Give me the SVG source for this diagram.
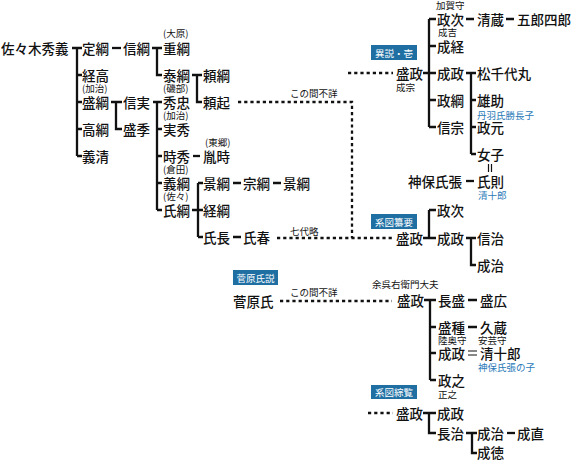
<svg xmlns="http://www.w3.org/2000/svg" width="573" height="460" viewBox="0 0 573 460">
<style>
text{font-family:"Noto Sans CJK JP","Noto Sans CJK SC",sans-serif;dominant-baseline:central;fill:#111}
.t{font-size:13.5px;font-weight:500}
.s{font-size:9.5px}
.b{font-size:9.5px;fill:#2a7ab8}
.w{font-size:9.5px;fill:#fff;text-anchor:middle}
.box{fill:#1f6fa3}
.ln{stroke:#111;stroke-width:2.3;fill:none}
.th{stroke:#111;stroke-width:1.2;fill:none}
.dt{stroke:#111;stroke-width:2.3;fill:none;stroke-dasharray:3.2 3}
</style>
<rect width="573" height="460" fill="#fff"/>
<g id="connectors">
<path class="ln" d="M72 48H82M77 48V156M77 75H82M77 102H82M77 129H82M77 156H82"/>
<path class="ln" d="M112 48H121"/>
<path class="ln" d="M152 48H162M157 48V75H162"/>
<path class="ln" d="M192 75H202M197 75V102H202"/>
<path class="ln" d="M111 102H122M116 102V129H122"/>
<path class="ln" d="M153 102H162M157 102V210M157 129H162M157 156H162M157 183H162M157 210H162"/>
<path class="ln" d="M193 156H200"/>
<path class="ln" d="M192 210H203M198 183V237M198 183H203M198 237H203"/>
<path class="ln" d="M233 183H241M273 183H281M233 237H241"/>
<path class="dt" d="M238 102H352V238M277 238H393"/>
<path class="dt" d="M348 73H393"/>
<path class="ln" d="M423 73H436M429 19V127M429 19H436M429 46H436M429 100H436M429 127H436"/>
<path class="ln" d="M466 19H474M506 19H514"/>
<path class="ln" d="M466 73H476M471 73V154M471 100H476M471 127H476M471 154H476"/>
<path class="th" d="M488.5 164V172M491.5 164V172"/>
<path class="ln" d="M466 181H474"/>
<path class="ln" d="M423 238H436M429 210V238M429 210H436"/>
<path class="ln" d="M466 238H476M471 238V265H476"/>
<path class="dt" d="M280 301H392"/>
<path class="ln" d="M424 300H436M430 300V380M430 327H436M430 353H436M430 380H436"/>
<path class="ln" d="M468 300H477M468 327H477"/>
<path class="th" d="M468 351H477M468 355H477"/>
<path class="dt" d="M368 413H393"/>
<path class="ln" d="M423 413H436M429 413V433H436"/>
<path class="ln" d="M466 433H477M472 433V453H477"/>
<path class="ln" d="M507 433H515"/>
</g>
<g id="n-hideyoshi"><text class="t" x="1" y="48">佐々木秀義</text></g>
<g id="n-sadatsuna"><text class="t" x="82" y="48">定綱</text></g>
<g id="n-tsunetaka"><text class="t" x="82" y="75">経高</text></g>
<g id="n-moritsuna"><text class="s" x="82" y="88">(加治)</text><text class="t" x="82" y="102">盛綱</text></g>
<g id="n-takatsuna"><text class="t" x="82" y="129">高綱</text></g>
<g id="n-yoshikiyo"><text class="t" x="82" y="156">義清</text></g>
<g id="n-nobutsuna"><text class="t" x="123" y="48">信綱</text></g>
<g id="n-nobuzane"><text class="t" x="123" y="102">信実</text></g>
<g id="n-morisue"><text class="t" x="123" y="129">盛季</text></g>
<g id="n-shigetsuna"><text class="s" x="163" y="33">(大原)</text><text class="t" x="163" y="48">重綱</text></g>
<g id="n-yasutsuna"><text class="t" x="163" y="75">泰綱</text></g>
<g id="n-hidetada"><text class="s" x="163" y="88">(磯部)</text><text class="t" x="163" y="102">秀忠</text></g>
<g id="n-sanehide"><text class="s" x="163" y="115">(加治)</text><text class="t" x="163" y="129">実秀</text></g>
<g id="n-tokihide"><text class="t" x="163" y="156">時秀</text></g>
<g id="n-yoshitsuna"><text class="s" x="163" y="169">(倉田)</text><text class="t" x="163" y="183">義綱</text></g>
<g id="n-ujitsuna"><text class="s" x="163" y="196">(佐々)</text><text class="t" x="163" y="210">氏綱</text></g>
<g id="n-yoritsuna"><text class="t" x="203" y="75">頼綱</text></g>
<g id="n-yorioki"><text class="t" x="203" y="102">頼起</text></g>
<g id="n-tanetoki"><text class="s" x="205" y="142">(東郷)</text><text class="t" x="203" y="156">胤時</text></g>
<g id="n-kagetsuna1"><text class="t" x="203" y="183">景綱</text></g>
<g id="n-tsunetsuna"><text class="t" x="203" y="210">経綱</text></g>
<g id="n-ujinaga"><text class="t" x="203" y="237">氏長</text></g>
<g id="n-munetsuna"><text class="t" x="243" y="183">宗綱</text></g>
<g id="n-kagetsuna2"><text class="t" x="283" y="183">景綱</text></g>
<g id="n-ujiharu"><text class="t" x="243" y="237">氏春</text></g>
<g id="lbl-fusho1"><text class="s" x="290" y="93">この間不詳</text></g>
<g id="lbl-nanadai"><text class="s" x="290" y="231">七代略</text></g>
<g id="box-isetsu"><rect class="box" x="371" y="45" width="46" height="15"/><text class="w" x="394" y="52.5">異説・壱</text></g>
<g id="n-morimasa1"><text class="t" x="396" y="73">盛政</text><text class="s" x="396" y="87">成宗</text></g>
<g id="n-masatsugu1"><text class="s" x="436" y="5">加賀守</text><text class="t" x="437" y="19">政次</text></g>
<g id="n-seizo"><text class="t" x="477" y="19">清蔵</text></g>
<g id="n-goroshiro"><text class="t" x="517" y="19">五郎四郎</text></g>
<g id="n-naritsune"><text class="s" x="438" y="32">成吉</text><text class="t" x="437" y="46">成経</text></g>
<g id="n-narimasa1"><text class="t" x="437" y="73">成政</text></g>
<g id="n-masatsuna"><text class="t" x="437" y="100">政綱</text></g>
<g id="n-nobumune"><text class="t" x="437" y="127">信宗</text></g>
<g id="n-matsuchiyo"><text class="t" x="477" y="73">松千代丸</text></g>
<g id="n-yusuke"><text class="t" x="477" y="100">雄助</text><text class="b" x="477" y="115">丹羽氏勝長子</text></g>
<g id="n-masamoto"><text class="t" x="477" y="127">政元</text></g>
<g id="n-joshi"><text class="t" x="477" y="154">女子</text></g>
<g id="n-jinbo"><text class="t" x="408" y="181">神保氏張</text></g>
<g id="n-ujinori"><text class="t" x="477" y="181">氏則</text><text class="b" x="478" y="195">清十郎</text></g>
<g id="box-sanyo"><rect class="box" x="371" y="214" width="46" height="15"/><text class="w" x="394" y="221.5">系図纂要</text></g>
<g id="n-morimasa2"><text class="t" x="396" y="238">盛政</text></g>
<g id="n-masatsugu2"><text class="t" x="437" y="210">政次</text></g>
<g id="n-narimasa2"><text class="t" x="437" y="238">成政</text></g>
<g id="n-nobuharu"><text class="t" x="477" y="238">信治</text></g>
<g id="n-nariharu1"><text class="t" x="477" y="265">成治</text></g>
<g id="box-sugawara"><rect class="box" x="233" y="270" width="45" height="15"/><text class="w" x="255.5" y="277.5">菅原氏説</text></g>
<g id="n-sugawara"><text class="t" x="233" y="301">菅原氏</text></g>
<g id="lbl-fusho2"><text class="s" x="290" y="292">この間不詳</text></g>
<g id="n-morimasa3"><text class="s" x="372" y="284">余呉右衛門大夫</text><text class="t" x="397" y="300">盛政</text></g>
<g id="n-nagamori"><text class="t" x="438" y="300">長盛</text></g>
<g id="n-morihiro"><text class="t" x="480" y="300">盛広</text></g>
<g id="n-moritane"><text class="t" x="438" y="327">盛種</text></g>
<g id="n-kyuzo"><text class="t" x="480" y="327">久蔵</text></g>
<g id="n-narimasa3"><text class="s" x="438" y="340">陸奥守</text><text class="t" x="438" y="353">成政</text></g>
<g id="n-seijuro"><text class="s" x="478" y="340">安芸守</text><text class="t" x="480" y="353">清十郎</text><text class="b" x="478" y="367">神保氏張の子</text></g>
<g id="n-masayuki"><text class="t" x="438" y="380">政之</text><text class="s" x="438" y="394">正之</text></g>
<g id="box-soran"><rect class="box" x="371" y="385" width="46" height="14"/><text class="w" x="394" y="392">系図綜覧</text></g>
<g id="n-morimasa4"><text class="t" x="396" y="413">盛政</text></g>
<g id="n-narimasa4"><text class="t" x="437" y="413">成政</text></g>
<g id="n-nagaharu"><text class="t" x="437" y="433">長治</text></g>
<g id="n-nariharu2"><text class="t" x="477" y="433">成治</text></g>
<g id="n-narinao"><text class="t" x="517" y="433">成直</text></g>
<g id="n-narinori"><text class="t" x="477" y="452">成徳</text></g>
</svg>
